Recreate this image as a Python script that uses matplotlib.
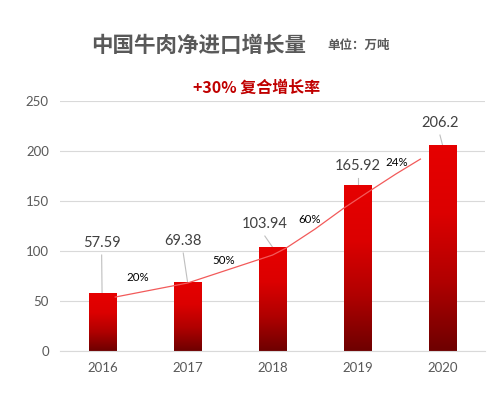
import numpy as np
import matplotlib
matplotlib.use("Agg")
import matplotlib.pyplot as plt
from matplotlib.colors import LinearSegmentedColormap

plt.rcParams['font.family'] = ['Noto Sans CJK SC', 'DejaVu Sans']

years = ['2016', '2017', '2018', '2019', '2020']
imports = [57.59, 69.38, 103.94, 165.92, 206.2]
growth_labels = ['20%', '50%', '60%', '24%']

# trend line (category units, value units)
trend_x = [0.15, 1.0, 1.5, 2.0, 2.16, 2.5, 2.84, 3.16, 3.45, 3.74]
trend_y = [54, 68, 82, 96, 103, 122, 143, 161, 177, 192]
# where the growth labels sit
growth_x = [0.41, 1.42, 2.44, 3.46]
growth_y = [74, 91, 132, 189]
# value label positions (leader lines)
label_x = [-0.01, 0.95, 1.91, 3.0, 3.97]
label_y = [108, 110, 127, 185, 228]

fig = plt.figure(figsize=(5, 3.98), dpi=100)
ax = fig.add_axes([0.12, 0.118, 0.85, 0.628])

x = np.arange(len(years))
w = 0.32
cmap = LinearSegmentedColormap.from_list('red', ['#6e0000', '#b00000', '#dc0000', '#e60000'])
grad = np.linspace(0, 1, 256).reshape(-1, 1)

bars = ax.bar(x, imports, width=w, color='none', edgecolor='none', zorder=2)
for b in bars:
    x0, y0 = b.get_x(), b.get_y()
    im = ax.imshow(grad, cmap=cmap, origin='lower', aspect='auto',
                   extent=[x0, x0 + b.get_width(), y0, y0 + b.get_height()], zorder=2)
    im.set_clip_path(b)

ax.plot(trend_x, trend_y, color='#f25a5a', lw=0.9, zorder=3)

for i, v in enumerate(imports):
    ax.text(label_x[i], label_y[i], f'{v:g}', ha='center', va='center',
            fontsize=10.5, color='#404040', family=['Lato', 'DejaVu Sans'], zorder=4)
    ax.plot([label_x[i], x[i] - 0.005 * (i == 0)], [label_y[i] - 12, v], color='#bfbfbf', lw=0.8, zorder=1)

for gx, gy, t in zip(growth_x, growth_y, growth_labels):
    ax.text(gx, gy, t, ha='center', va='center', fontsize=8.3, color='#000000',
            family=['Lato', 'DejaVu Sans'], zorder=4)

ax.set_xlim(-0.5, 4.5)
ax.set_ylim(0, 250)
ax.set_yticks(range(0, 251, 50))
ax.set_xticks(x)
ax.set_xticklabels(years)
ax.grid(axis='y', color='#d9d9d9', lw=0.8, zorder=0)
ax.set_axisbelow(True)
for s in ['top', 'right', 'left']:
    ax.spines[s].set_visible(False)
ax.spines['bottom'].set_color('#d9d9d9')
ax.tick_params(length=0, labelsize=9.5, colors='#595959', pad=8)
for lab in ax.get_xticklabels() + ax.get_yticklabels():
    lab.set_family(['Lato', 'DejaVu Sans'])

fig.text(0.398, 0.887, '中国牛肉净进口增长量', ha='center', va='center',
         fontsize=15.5, fontweight='bold', color='#595959')
fig.text(0.718, 0.887, '单位：万吨', ha='center', va='center',
         fontsize=9, fontweight='bold', color='#595959')
fig.text(0.514, 0.779, '+30% 复合增长率', ha='center', va='center',
         fontsize=11.5, fontweight='bold', color='#c00000')

fig.savefig('out.png', dpi=100)
